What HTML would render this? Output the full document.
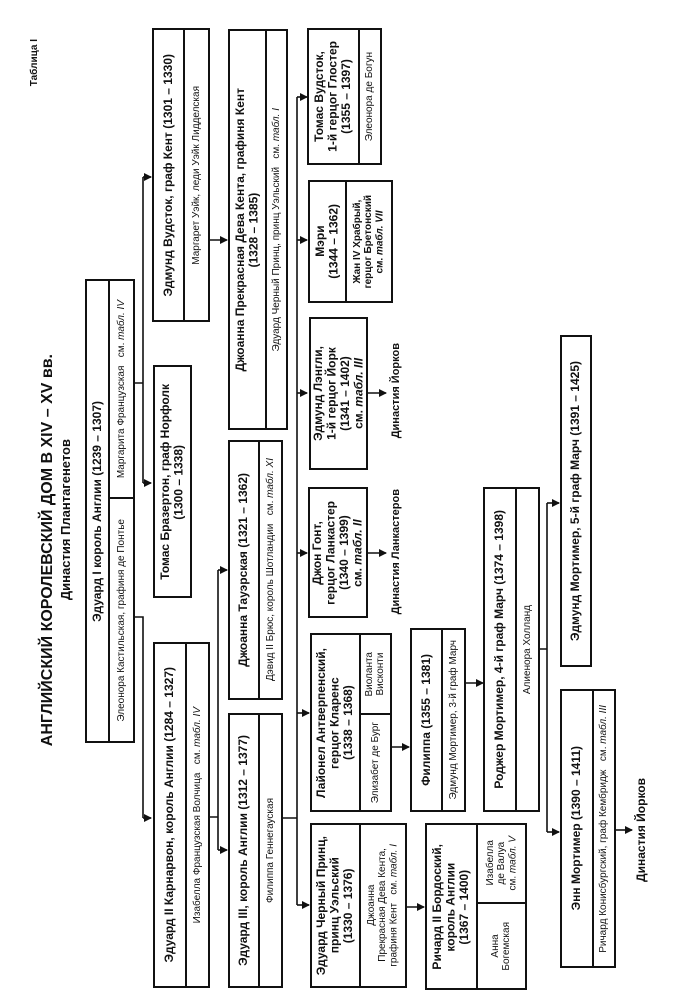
<!DOCTYPE html>
<html><head><meta charset="utf-8">
<style>
html,body{margin:0;padding:0;background:#fff;}
#pg{position:relative;width:674px;height:1000px;overflow:hidden;background:#fff;font-family:"Liberation Sans Narrow","Liberation Sans",sans-serif;color:#111;}
.c{position:absolute;box-sizing:border-box;border:2px solid #111;display:flex;align-items:center;justify-content:center;overflow:hidden;}
.t{position:absolute;display:flex;align-items:center;justify-content:center;}
.c span,.t span{writing-mode:vertical-rl;transform:rotate(180deg);text-align:center;white-space:nowrap;line-height:1.12;}
.b{font-weight:bold;font-size:12px;}
.n{font-size:10px;}
svg{position:absolute;left:0;top:0;}
</style></head><body><div id="pg">
<svg width="674" height="1000">
<defs><marker id="a" markerWidth="8" markerHeight="8" refX="7" refY="4" orient="auto" markerUnits="userSpaceOnUse"><path d="M0,0 L8,4 L0,8 z" fill="#111"/></marker></defs>
<g stroke="#111" stroke-width="1.6" fill="none">
<path d="M135 383 H143 M143 177 V483" />
<path d="M143 177 H151" marker-end="url(#a)"/><path d="M143 483 H151" marker-end="url(#a)"/>
<path d="M135 617 H143 V818"/><path d="M143 818 H151" marker-end="url(#a)"/>
<path d="M210 240 H227" marker-end="url(#a)"/>
<path d="M210 817 H218 M218 570 V850"/><path d="M218 570 H227" marker-end="url(#a)"/><path d="M218 850 H227" marker-end="url(#a)"/>
<path d="M283 818 H297 M297 97 V905"/>
<path d="M297 97 H307" marker-end="url(#a)"/><path d="M297 240 H307" marker-end="url(#a)"/><path d="M297 393 H307" marker-end="url(#a)"/><path d="M297 553 H307" marker-end="url(#a)"/><path d="M297 713 H309" marker-end="url(#a)"/><path d="M297 905 H309" marker-end="url(#a)"/>
<path d="M368 393 H386" marker-end="url(#a)"/><path d="M368 553 H386" marker-end="url(#a)"/>
<path d="M407 907 H424" marker-end="url(#a)"/>
<path d="M392 747 H409" marker-end="url(#a)"/>
<path d="M466 683 H483" marker-end="url(#a)"/>
<path d="M539 649 H547 M547 503 V832"/><path d="M547 503 H559" marker-end="url(#a)"/><path d="M547 832 H559" marker-end="url(#a)"/>
<path d="M616 830 H632" marker-end="url(#a)"/>
</g></svg>

<div class="t" style="left:25px;top:30px;width:20px;height:66px"><span class="n" style="font-weight:bold">Таблица I</span></div>
<div class="t" style="left:36px;top:320px;width:24px;height:460px"><span style="font-weight:bold;font-size:16px">АНГЛИЙСКИЙ КОРОЛЕВСКИЙ ДОМ В XIV – XV вв.</span></div>
<div class="t" style="left:56px;top:410px;width:20px;height:220px"><span style="font-weight:bold;font-size:13px">Династия Плантагенетов</span></div>

<div class="c" style="left:85px;top:279px;width:25px;height:464px"><span class="b">Эдуард I король Англии (1239 – 1307)</span></div>
<div class="c" style="left:108px;top:279px;width:27px;height:220px"><span class="n">Маргарита Французская &nbsp; см. <i>табл. IV</i></span></div>
<div class="c" style="left:108px;top:497px;width:27px;height:246px"><span class="n">Элеонора Кастильская, графиня де Понтье</span></div>

<div class="c" style="left:152px;top:28px;width:33px;height:294px"><span class="b">Эдмунд Вудсток, граф Кент (1301 – 1330)</span></div>
<div class="c" style="left:183px;top:28px;width:27px;height:294px"><span class="n">Маргарет Уэйк, леди Уэйк Лидделская</span></div>

<div class="c" style="left:153px;top:365px;width:39px;height:233px"><span class="b">Томас Бразертон, граф Норфолк<br>(1300 – 1338)</span></div>

<div class="c" style="left:153px;top:642px;width:34px;height:346px"><span class="b">Эдуард II Карнарвон, король Англии (1284 – 1327)</span></div>
<div class="c" style="left:185px;top:642px;width:25px;height:346px"><span class="n">Изабелла Французская Волчица &nbsp; см. <i>табл. IV</i></span></div>

<div class="c" style="left:228px;top:29px;width:39px;height:401px"><span class="b">Джоанна Прекрасная Дева Кента, графиня Кент<br>(1328 – 1385)</span></div>
<div class="c" style="left:265px;top:29px;width:23px;height:401px"><span class="n">Эдуард Черный Принц, принц Уэльский &nbsp; см. <i>табл. I</i></span></div>

<div class="c" style="left:228px;top:440px;width:32px;height:260px"><span class="b">Джоанна Тауэрская (1321 – 1362)</span></div>
<div class="c" style="left:258px;top:440px;width:25px;height:260px"><span class="n">Дэвид II Брюс, король Шотландии &nbsp; см. <i>табл. XI</i></span></div>

<div class="c" style="left:228px;top:713px;width:32px;height:275px"><span class="b">Эдуард III, король Англии (1312 – 1377)</span></div>
<div class="c" style="left:258px;top:713px;width:25px;height:275px"><span class="n">Филиппа Геннегауская</span></div>

<div class="c" style="left:307px;top:28px;width:53px;height:137px"><span class="b">Томас Вудсток,<br>1-й герцог Глостер<br>(1355 – 1397)</span></div>
<div class="c" style="left:358px;top:28px;width:24px;height:137px"><span class="n">Элеонора де Богун</span></div>

<div class="c" style="left:308px;top:180px;width:39px;height:123px"><span class="b">Мэри<br>(1344 – 1362)</span></div>
<div class="c" style="left:345px;top:180px;width:48px;height:123px"><span class="n" style="font-weight:bold">Жан IV Храбрый,<br>герцог Бретонский<br>см. <i>табл. VII</i></span></div>

<div class="c" style="left:309px;top:317px;width:59px;height:153px"><span class="b">Эдмунд Лэнгли,<br>1-й герцог Йорк<br>(1341 – 1402)<br>см. <i>табл. III</i></span></div>
<div class="t" style="left:386px;top:325px;width:20px;height:132px"><span class="b" style="font-size:11px">Династия Йорков</span></div>

<div class="c" style="left:308px;top:487px;width:60px;height:131px"><span class="b">Джон Гонт,<br>герцог Ланкастер<br>(1340 – 1399)<br>см. <i>табл. II</i></span></div>
<div class="t" style="left:386px;top:474px;width:20px;height:155px"><span class="b" style="font-size:11px">Династия Ланкастеров</span></div>

<div class="c" style="left:310px;top:633px;width:51px;height:179px"><span class="b">Лайонел Антверпенский,<br>герцог Кларенс<br>(1338 – 1368)</span></div>
<div class="c" style="left:359px;top:633px;width:33px;height:82px"><span class="n">Виоланта<br>Висконти</span></div>
<div class="c" style="left:359px;top:713px;width:33px;height:99px"><span class="n">Элизабет де Бург</span></div>

<div class="c" style="left:310px;top:823px;width:51px;height:165px"><span class="b">Эдуард Черный Принц,<br>принц Уэльский<br>(1330 – 1376)</span></div>
<div class="c" style="left:359px;top:823px;width:48px;height:165px"><span class="n">Джоанна<br>Прекрасная Дева Кента,<br>графиня Кент &nbsp; см. <i>табл. I</i></span></div>

<div class="c" style="left:425px;top:823px;width:53px;height:167px"><span class="b">Ричард II Бордоский,<br>король Англии<br>(1367 – 1400)</span></div>
<div class="c" style="left:476px;top:823px;width:51px;height:81px"><span class="n">Изабелла<br>де Валуа<br>см. <i>табл. V</i></span></div>
<div class="c" style="left:476px;top:902px;width:51px;height:88px"><span class="n">Анна<br>Богемская</span></div>

<div class="c" style="left:410px;top:628px;width:33px;height:184px"><span class="b">Филиппа (1355 – 1381)</span></div>
<div class="c" style="left:441px;top:628px;width:25px;height:184px"><span class="n">Эдмунд Мортимер, 3-й граф Марч</span></div>

<div class="c" style="left:483px;top:487px;width:34px;height:325px"><span class="b">Роджер Мортимер, 4-й граф Марч (1374 – 1398)</span></div>
<div class="c" style="left:515px;top:487px;width:25px;height:325px"><span class="n">Алиенора Холланд</span></div>

<div class="c" style="left:560px;top:335px;width:32px;height:332px"><span class="b">Эдмунд Мортимер, 5-й граф Марч (1391 – 1425)</span></div>

<div class="c" style="left:560px;top:689px;width:34px;height:279px"><span class="b">Энн Мортимер (1390 – 1411)</span></div>
<div class="c" style="left:592px;top:689px;width:24px;height:279px"><span class="n">Ричард Конисбургский, граф Кембридж &nbsp; см. <i>табл. III</i></span></div>
<div class="t" style="left:632px;top:760px;width:20px;height:140px"><span class="b">Династия Йорков</span></div>
</div></body></html>
